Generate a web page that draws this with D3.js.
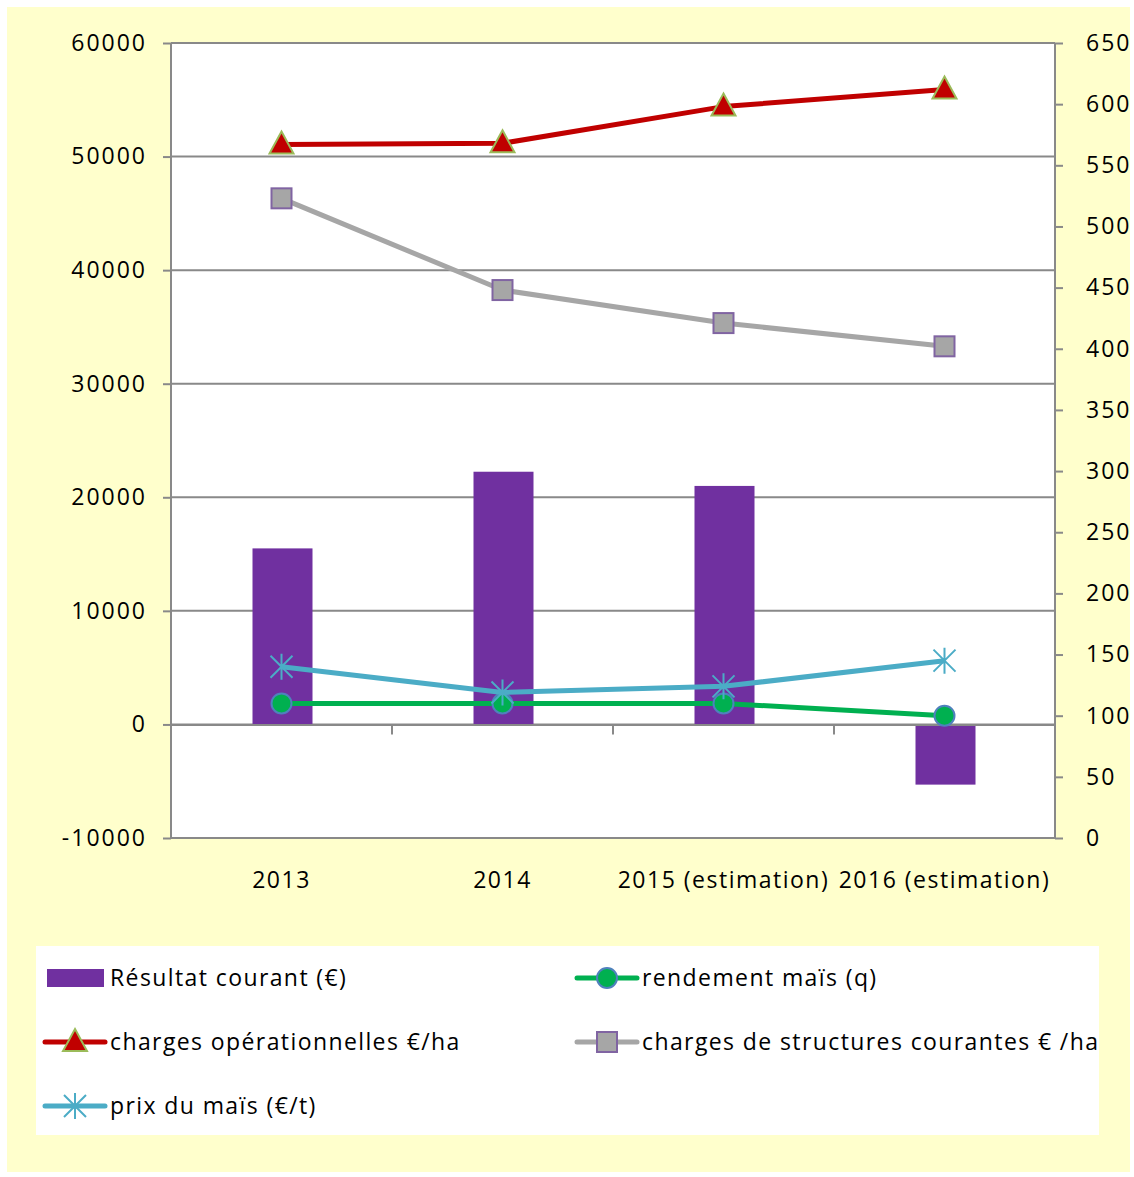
<!DOCTYPE html>
<html>
<head>
<meta charset="utf-8">
<script src="https://cdn.jsdelivr.net/npm/d3@7"></script>
<style>
  body { margin: 0; background: #fff; }
  svg text { font-family: "Open Sans", "Liberation Sans", sans-serif; fill: #000; }
</style>
</head>
<body>
<div class="graphContainer"></div>
<script>
// categories and series
const years = ["2013", "2014", "2015 (estimation)", "2016 (estimation)"];
const resultat = [15500, 22250, 21000, -5300];          // left axis, bars
const chargesOpe = [567, 568, 598, 612];                // right axis
const chargesStruct = [523, 448, 421, 402];             // right axis
const prixMais = [140, 119, 124, 145];                  // right axis
const rendement = [110, 110, 110, 100];                 // right axis
const leftTicks = [-10000, 0, 10000, 20000, 30000, 40000, 50000, 60000];
const rightTicks = [0, 50, 100, 150, 200, 250, 300, 350, 400, 450, 500, 550, 600, 650];

const w = 1134, h = 1177;
const pLeft = 171, pRight = 1055, pTop = 43, pBottom = 838;
const axisGrey = "#898989";

const svg = d3.select(".graphContainer").append("svg")
  .attr("width", w).attr("height", h);

// background panels
svg.append("rect").attr("x", 7).attr("y", 7).attr("width", 1123).attr("height", 1165)
  .attr("fill", "#FFFFCC");
svg.append("rect").attr("x", pLeft).attr("y", pTop).attr("width", pRight - pLeft).attr("height", pBottom - pTop)
  .attr("fill", "#fff");

// scales
const x = d3.scaleBand().domain(years).range([pLeft, pRight]);
const yL = d3.scaleLinear().domain([-10000, 60000]).range([pBottom, pTop]);
const yR = d3.scaleLinear().domain([0, 650]).range([pBottom, pTop]);

// gridlines from left ticks
svg.append("g").selectAll("line").data(leftTicks).enter().append("line")
  .attr("x1", pLeft).attr("x2", pRight)
  .attr("y1", d => yL(d)).attr("y2", d => yL(d))
  .attr("stroke", axisGrey).attr("stroke-width", 2);

// left axis
const gL = svg.append("g").attr("transform", "translate(" + pLeft + ",0)")
  .call(d3.axisLeft(yL).tickValues(leftTicks).tickSize(8).tickPadding(16).tickFormat(d => String(d)));
// right axis
const gR = svg.append("g").attr("transform", "translate(" + pRight + ",0)")
  .call(d3.axisRight(yR).tickValues(rightTicks).tickSize(8).tickPadding(23).tickFormat(d => String(d)));
[gL, gR].forEach(g => {
  g.selectAll("path, line").attr("stroke", axisGrey).attr("stroke-width", 2);
  g.select(".domain").attr("d", "M0," + pTop + "V" + pBottom);
  g.selectAll("text").style("font-size", "23px").style("letter-spacing", "2px").attr("fill", "#000");
});

// bars
svg.append("g").selectAll("rect").data(resultat).enter().append("rect")
  .attr("x", (d, i) => x(years[i]) + x.bandwidth() / 2 - 29)
  .attr("width", 60)
  .attr("y", d => yL(Math.max(0, d)))
  .attr("height", d => Math.abs(yL(d) - yL(0)))
  .attr("fill", "#7030A0");

// category axis at zero
const gX = svg.append("g").attr("transform", "translate(0," + yL(0) + ")")
  .call(d3.axisBottom(x).tickSize(0).tickFormat(""));
gX.select(".domain").attr("stroke", axisGrey).attr("stroke-width", 2);
gX.selectAll("line.bnd").data(d3.range(years.length + 1)).enter().append("line")
  .attr("class", "bnd")
  .attr("x1", i => pLeft + i * x.step()).attr("x2", i => pLeft + i * x.step())
  .attr("y1", 0).attr("y2", 10)
  .attr("stroke", axisGrey).attr("stroke-width", 2);

// category labels below plot
svg.append("g").selectAll("text").data(years).enter().append("text")
  .attr("x", d => x(d) + x.bandwidth() / 2)
  .attr("y", 888)
  .attr("text-anchor", "middle")
  .style("font-size", "23px")
  .style("letter-spacing", "1.5px")
  .text(d => d);

// line series
const series = [
  { name: "rendement", values: rendement, color: "#00B050", marker: "circle", fill: "#00B050", stroke: "#4F81BD" },
  { name: "prix", values: prixMais, color: "#4BACC6", marker: "star", fill: "none", stroke: "#4BACC6" },
  { name: "struct", values: chargesStruct, color: "#A6A6A6", marker: "square", fill: "#A6A6A6", stroke: "#8064A2" },
  { name: "ope", values: chargesOpe, color: "#C00000", marker: "triangle", fill: "#C00000", stroke: "#9BBB59" }
];

const line = d3.line()
  .x((d, i) => x(years[i]) + x.bandwidth() / 2)
  .y(d => yR(d));

function drawMarker(g, type, fill, stroke) {
  if (type === "circle") {
    g.append("circle").attr("r", 10).attr("fill", fill).attr("stroke", stroke).attr("stroke-width", 2);
  } else if (type === "square") {
    g.append("rect").attr("x", -10).attr("y", -10).attr("width", 20).attr("height", 20)
      .attr("fill", fill).attr("stroke", stroke).attr("stroke-width", 2);
  } else if (type === "triangle") {
    g.append("path").attr("d", "M0,-13L12,9L-12,9Z")
      .attr("fill", fill).attr("stroke", stroke).attr("stroke-width", 2);
  } else if (type === "star") {
    g.append("path").attr("d", "M-11,-11L11,11M-11,11L11,-11M0,-13V13")
      .attr("stroke", stroke).attr("stroke-width", 2).attr("fill", "none");
  }
}

series.forEach(s => {
  svg.append("path").datum(s.values)
    .attr("d", line)
    .attr("fill", "none")
    .attr("stroke", s.color)
    .attr("stroke-width", 5)
    .attr("stroke-linejoin", "round");
  s.values.forEach((v, i) => {
    const g = svg.append("g")
      .attr("transform", "translate(" + (x(years[i]) + x.bandwidth() / 2) + "," + yR(v) + ")");
    drawMarker(g, s.marker, s.fill, s.stroke);
  });
});

// legend
svg.append("rect").attr("x", 36).attr("y", 946).attr("width", 1063).attr("height", 189).attr("fill", "#fff");
const legendItems = [
  { label: "Résultat courant (€)", type: "bar", x: 45, y: 978 },
  { label: "rendement maïs (q)", s: series[0], x: 577, y: 978 },
  { label: "charges opérationnelles €/ha", s: series[3], x: 45, y: 1042 },
  { label: "charges de structures courantes € /ha", s: series[2], x: 577, y: 1042 },
  { label: "prix du maïs (€/t)", s: series[1], x: 45, y: 1106 }
];
legendItems.forEach(item => {
  const g = svg.append("g").attr("transform", "translate(" + item.x + "," + item.y + ")");
  if (item.type === "bar") {
    g.append("rect").attr("x", 2).attr("y", -9).attr("width", 57).attr("height", 18).attr("fill", "#7030A0");
  } else {
    g.append("line").attr("x1", 0).attr("x2", 60).attr("y1", 0).attr("y2", 0)
      .attr("stroke", item.s.color).attr("stroke-width", 5).attr("stroke-linecap", "round");
    const m = g.append("g").attr("transform", "translate(30,0)");
    drawMarker(m, item.s.marker, item.s.fill, item.s.stroke);
  }
  g.append("text").attr("x", 65).attr("y", 8).style("font-size", "23px")
    .style("letter-spacing", "1.4px").text(item.label);
});
</script>
</body>
</html>
